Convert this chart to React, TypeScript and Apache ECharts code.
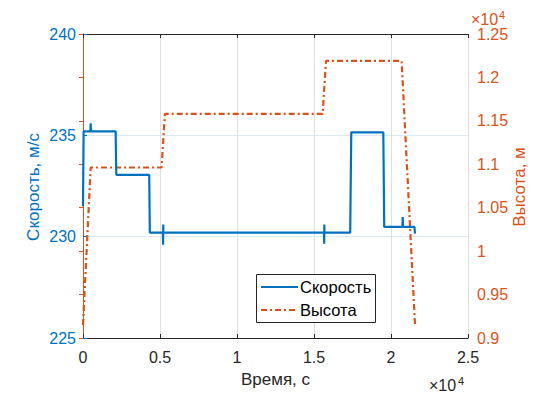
import React, { useEffect, useRef } from "react";
import * as echarts from "echarts";

// Speed series (time in s, speed in m/s)
const speedTime = [0, 40, 480, 500, 520, 2120, 2160, 4300, 4340, 5190, 5200, 5210, 5220, 15650, 15660, 15670, 15680, 17350, 17420, 19500, 19560, 20740, 20760, 20780, 21520, 21560];
const speedValues = [231.5, 235.2, 235.2, 235.6, 235.2, 235.2, 233.05, 233.05, 230.2, 230.2, 229.6, 230.6, 230.2, 230.2, 229.65, 230.6, 230.2, 230.2, 235.15, 235.15, 230.48, 230.48, 230.97, 230.48, 230.48, 230.15];

// Altitude series (time in s, altitude in m)
const altTime = [0, 500, 5100, 5320, 15560, 15780, 20690, 21560];
const altValues = [9150, 10963, 10963, 11580, 11580, 12190, 12190, 9150];

const xTicks = [0, 5000, 10000, 15000, 20000, 25000];
const leftTicks = [225, 230, 235, 240];
const rightTicks = [9000, 9500, 10000, 10500, 11000, 11500, 12000, 12500];
const legendNames = ["Скорость", "Высота"];

const BLUE = "#0072BD";
const ORANGE = "#D95319";
const DARK = "#262626";
const FONT = "'Liberation Sans', Arial, Helvetica, sans-serif";
const DASH = [6, 3, 2, 3];

const fmt4 = (v: number) => String(parseFloat((v / 1e4).toFixed(2)));

export default function App() {
  const ref = useRef<HTMLDivElement>(null);
  useEffect(() => {
    if (!ref.current) return;
    const chart = echarts.init(ref.current, undefined, { renderer: "svg" });
    const speedData = speedTime.map((t, i) => [t, speedValues[i]]);
    const altData = altTime.map((t, i) => [t, altValues[i]]);
    chart.setOption({
      animation: false,
      backgroundColor: "#ffffff",
      textStyle: { fontFamily: FONT },
      grid: { left: 83, top: 34, width: 385, height: 306, containLabel: false },
      xAxis: [
        {
          type: "value",
          min: xTicks[0],
          max: xTicks[xTicks.length - 1],
          interval: 5000,
          position: "bottom",
          axisLine: { show: true, lineStyle: { color: DARK, width: 1 } },
          axisTick: { show: true, inside: true, length: 4, lineStyle: { color: DARK } },
          axisLabel: { color: DARK, fontSize: 16, fontFamily: FONT, margin: 11, formatter: fmt4 },
          splitLine: { show: true, lineStyle: { color: "#dfdfdf", width: 1 } },
          name: "Время, с",
          nameLocation: "middle",
          nameGap: 33,
          nameTextStyle: { color: DARK, fontSize: 17, fontFamily: FONT },
        },
        {
          type: "value",
          min: xTicks[0],
          max: xTicks[xTicks.length - 1],
          interval: 5000,
          position: "top",
          axisLine: { show: true, lineStyle: { color: DARK, width: 1 } },
          axisTick: { show: true, inside: true, length: 4, lineStyle: { color: DARK } },
          axisLabel: { show: false },
          splitLine: { show: false },
        },
      ],
      yAxis: [
        {
          type: "value",
          position: "left",
          min: leftTicks[0],
          max: leftTicks[leftTicks.length - 1],
          interval: 5,
          axisLine: { show: true, lineStyle: { color: BLUE, width: 1 } },
          axisTick: { show: true, inside: true, length: 4, lineStyle: { color: BLUE } },
          axisLabel: { color: BLUE, fontSize: 16, fontFamily: FONT, margin: 7 },
          splitLine: { show: true, lineStyle: { color: "#dbeaf5", width: 1 } },
        },
        {
          type: "value",
          position: "right",
          min: rightTicks[0],
          max: rightTicks[rightTicks.length - 1],
          interval: 500,
          axisLine: { show: true, lineStyle: { color: ORANGE, width: 1 } },
          axisTick: { show: true, inside: true, length: 4, lineStyle: { color: ORANGE } },
          axisLabel: { color: ORANGE, fontSize: 16, fontFamily: FONT, margin: 9, formatter: fmt4 },
          splitLine: { show: false },
        },
      ],
      series: [
        {
          name: legendNames[0],
          type: "line",
          xAxisIndex: 0,
          yAxisIndex: 0,
          data: speedData,
          symbol: "none",
          showSymbol: false,
          color: BLUE,
          lineStyle: { color: BLUE, width: 2.2 },
          z: 3,
        },
        {
          name: legendNames[1],
          type: "line",
          xAxisIndex: 0,
          yAxisIndex: 1,
          data: altData,
          symbol: "none",
          showSymbol: false,
          color: ORANGE,
          lineStyle: { color: ORANGE, width: 2.2, type: DASH },
          z: 2,
        },
      ],
      graphic: [
        {
          type: "rect",
          shape: { x: 256.5, y: 274.5, width: 119, height: 48 },
          style: { fill: "#ffffff", stroke: DARK, lineWidth: 1 },
          z: 10,
        },
        {
          type: "line",
          shape: { x1: 261, y1: 287, x2: 298, y2: 287 },
          style: { stroke: BLUE, lineWidth: 2.2 },
          z: 11,
        },
        {
          type: "line",
          shape: { x1: 261, y1: 310, x2: 298, y2: 310 },
          style: { stroke: ORANGE, lineWidth: 2.2, lineDash: DASH },
          z: 11,
        },
        {
          type: "text",
          x: 300,
          y: 287,
          style: { text: legendNames[0], fill: "#000000", font: `16.5px ${FONT}`, align: "left", verticalAlign: "middle" },
          z: 11,
        },
        {
          type: "text",
          x: 300,
          y: 310,
          style: { text: legendNames[1], fill: "#000000", font: `16.5px ${FONT}`, align: "left", verticalAlign: "middle" },
          z: 11,
        },
        {
          type: "text",
          x: 33,
          y: 187,
          rotation: Math.PI / 2,
          style: { text: "Скорость, м/с", fill: BLUE, font: `17px ${FONT}`, align: "center", verticalAlign: "middle" },
        },
        {
          type: "text",
          x: 519,
          y: 187,
          rotation: Math.PI / 2,
          style: { text: "Высота, м", fill: ORANGE, font: `17px ${FONT}`, align: "center", verticalAlign: "middle" },
        },
        {
          type: "text",
          x: 471,
          y: 27,
          style: { text: "×10", fill: ORANGE, font: `16px ${FONT}`, align: "left", verticalAlign: "bottom" },
        },
        {
          type: "text",
          x: 499,
          y: 20,
          style: { text: "4", fill: ORANGE, font: `11px ${FONT}`, align: "left", verticalAlign: "bottom" },
        },
        {
          type: "text",
          x: 429,
          y: 393,
          style: { text: "×10", fill: DARK, font: `16px ${FONT}`, align: "left", verticalAlign: "bottom" },
        },
        {
          type: "text",
          x: 458,
          y: 386,
          style: { text: "4", fill: DARK, font: `11px ${FONT}`, align: "left", verticalAlign: "bottom" },
        },
      ],
    });
    return () => chart.dispose();
  }, []);
  return <div ref={ref} style={{ position: "absolute", left: 0, top: 0, width: 534, height: 393 }} />;
}
